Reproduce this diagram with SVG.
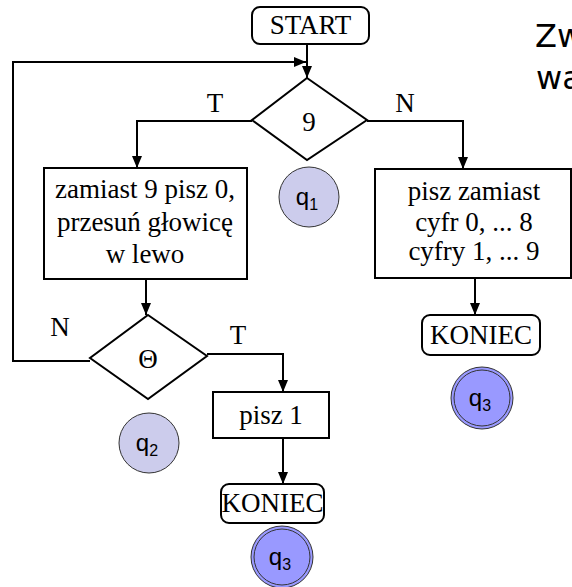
<svg xmlns="http://www.w3.org/2000/svg" width="572" height="587" viewBox="0 0 572 587">
  <style>
    .box { fill: #ffffff; stroke: #000000; stroke-width: 2; }
    .lbl { font-family: "Liberation Serif", "Times New Roman", serif; font-size: 27px; fill: #000000; text-anchor: middle; }
    .st { font-family: "Liberation Sans", Arial, sans-serif; font-size: 24px; fill: #000000; text-anchor: middle; }
    .sub { font-size: 16px; }
    .title { font-family: "DejaVu Sans", Verdana, sans-serif; font-size: 32px; fill: #000000; }
    .line { fill: none; stroke: #000000; stroke-width: 2; }
    .s-light { fill: #ccccec; stroke: #333333; stroke-width: 1; }
    .s-final { fill: #9999ff; stroke: #333333; stroke-width: 1; }
  </style>
  <defs>
    <marker id="arrow" viewBox="0 0 12 10" refX="12" refY="5" markerWidth="12" markerHeight="10" markerUnits="userSpaceOnUse" orient="auto">
      <path d="M0,0 L12,5 L0,10 Z" fill="#000000"/>
    </marker>
  </defs>

  <rect width="572" height="587" fill="#ffffff"/>

  <!-- heading, running off the right edge -->
  <text class="title" x="535" y="47">Zw</text>
  <text class="title" x="536" y="89">wa</text>

  <!-- connectors -->
  <g id="connectors">
    <path class="line" d="M307,44 V78" marker-end="url(#arrow)"/>
    <path class="line" d="M90,361 H13 V62 H306" marker-end="url(#arrow)"/>
    <path class="line" d="M252,121 H137 V168" marker-end="url(#arrow)"/>
    <path class="line" d="M367,121 H463 V169" marker-end="url(#arrow)"/>
    <path class="line" d="M146,279 V315" marker-end="url(#arrow)"/>
    <path class="line" d="M207,354 H283 V392" marker-end="url(#arrow)"/>
    <path class="line" d="M283,438 V484" marker-end="url(#arrow)"/>
    <path class="line" d="M475,278 V315" marker-end="url(#arrow)"/>
    <text class="lbl" x="215" y="112">T</text>
    <text class="lbl" x="405" y="112">N</text>
    <text class="lbl" x="60" y="336">N</text>
    <text class="lbl" x="238" y="344">T</text>
  </g>

  <g id="start">
    <rect class="box" x="252" y="7" width="117" height="37" rx="8"/>
    <text class="lbl" x="310.5" y="34">START</text>
  </g>

  <g id="cond-9">
    <polygon class="box" points="307,78 367,120 307,160 252,120"/>
    <text class="lbl" x="309" y="131">9</text>
  </g>

  <g id="q1">
    <circle class="s-light" cx="309" cy="197" r="30"/>
    <text class="st" x="307" y="205">q<tspan class="sub" dy="5">1</tspan></text>
  </g>

  <g id="shift-left">
    <rect class="box" x="44" y="168" width="203" height="111"/>
    <text class="lbl" x="145" y="198">zamiast 9 pisz 0,</text>
    <text class="lbl" x="145" y="231">przesuń głowicę</text>
    <text class="lbl" x="145" y="263">w lewo</text>
  </g>

  <g id="increment">
    <rect class="box" x="375" y="169" width="196" height="109"/>
    <text class="lbl" x="474" y="200">pisz zamiast</text>
    <text class="lbl" x="474" y="231">cyfr 0, ... 8</text>
    <text class="lbl" x="474" y="260">cyfry 1, ... 9</text>
  </g>

  <g id="end-right">
    <rect class="box" x="422" y="315" width="118" height="40" rx="8"/>
    <text class="lbl" x="481" y="344">KONIEC</text>
  </g>

  <g id="q3-right">
    <circle class="s-final" cx="482" cy="398" r="31"/>
    <circle fill="none" stroke="#333333" stroke-width="1" cx="482" cy="398" r="28"/>
    <text class="st" x="480" y="406">q<tspan class="sub" dy="5">3</tspan></text>
  </g>

  <g id="cond-blank">
    <polygon class="box" points="148,315 207,356 148,399 90,358"/>
    <text class="lbl" x="148" y="368">Θ</text>
  </g>

  <g id="q2">
    <circle class="s-light" cx="149" cy="443" r="30"/>
    <text class="st" x="147" y="451">q<tspan class="sub" dy="5">2</tspan></text>
  </g>

  <g id="write-one">
    <rect class="box" x="213" y="392" width="116" height="46"/>
    <text class="lbl" x="271" y="424">pisz 1</text>
  </g>

  <g id="end-left">
    <rect class="box" x="221" y="484" width="103" height="39" rx="8"/>
    <text class="lbl" x="272.5" y="512">KONIEC</text>
  </g>

  <g id="q3-left">
    <circle class="s-final" cx="282" cy="557" r="31"/>
    <circle fill="none" stroke="#333333" stroke-width="1" cx="282" cy="557" r="28"/>
    <text class="st" x="280" y="565">q<tspan class="sub" dy="5">3</tspan></text>
  </g>
</svg>
